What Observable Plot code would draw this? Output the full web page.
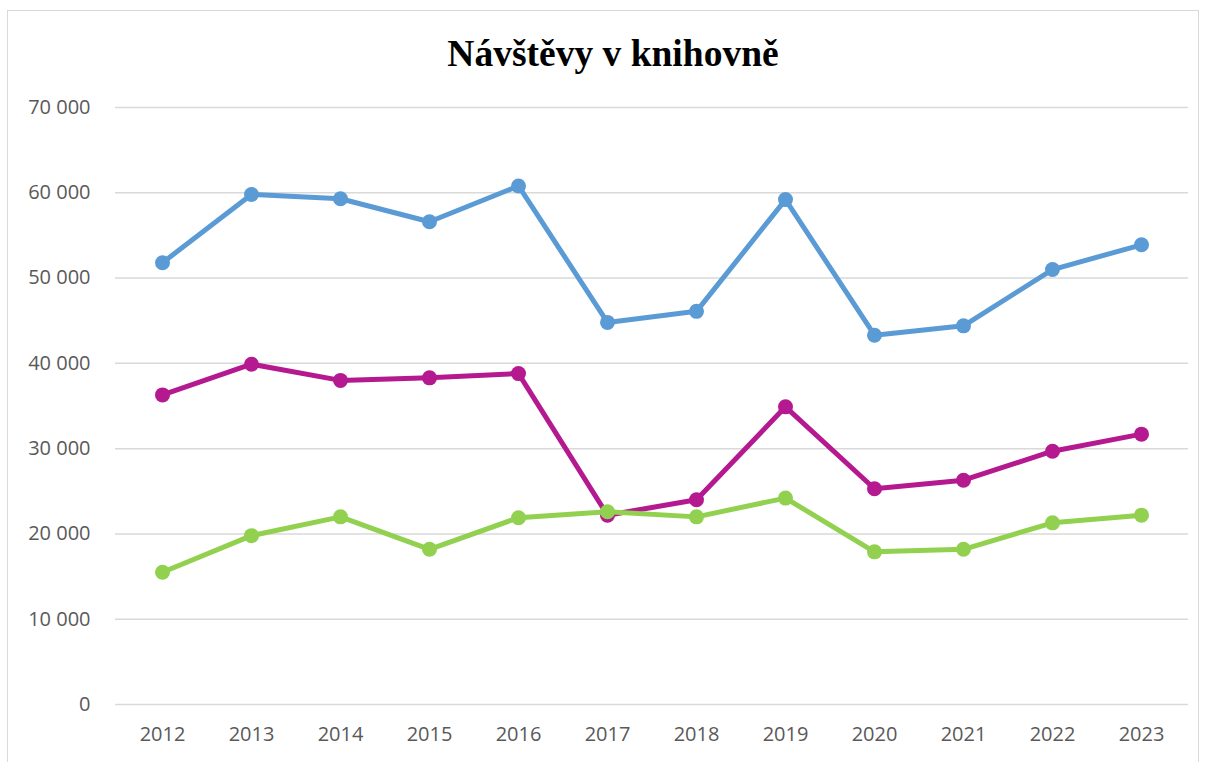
<!DOCTYPE html>
<html>
<head>
<meta charset="utf-8">
<script src="https://cdn.jsdelivr.net/npm/d3@7"></script>
<script src="https://cdn.jsdelivr.net/npm/@observablehq/plot@0.6"></script>
<style>
  html, body { margin: 0; padding: 0; background: #fff; width: 1206px; height: 762px; overflow: hidden; }
  #frame { position: absolute; left: 7px; top: 10px; width: 1192px; height: 800px; border: 1.5px solid #d9d9d9; box-sizing: border-box; }
  #title { position: absolute; left: 0; top: 32px; width: 1226px; text-align: center;
           font-family: "Liberation Serif", "Times New Roman", serif; font-weight: bold; font-size: 37.5px; color: #000; }
  #chart { position: absolute; left: 0; top: 80px; }
</style>
</head>
<body>
<div id="frame"></div>
<div id="title">Návštěvy v knihovně</div>
<div id="chart"></div>
<script>
const years = ["2012","2013","2014","2015","2016","2017","2018","2019","2020","2021","2022","2023"];
const seriesNames = ["A", "B", "C"];
const seriesA = [51800, 59800, 59300, 56600, 60800, 44800, 46100, 59200, 43300, 44400, 51000, 53900];
const seriesB = [36300, 39900, 38000, 38300, 38800, 22200, 24000, 34900, 25300, 26300, 29700, 31700];
const seriesC = [15500, 19800, 22000, 18200, 21900, 22600, 22000, 24200, 17900, 18200, 21300, 22200];
const colors = ["#5B9BD5", "#B5198F", "#92D050"];
const yTicks = [0, 10000, 20000, 30000, 40000, 50000, 60000, 70000];

const allSeries = [seriesA, seriesB, seriesC];
const data = [];
allSeries.forEach((vals, si) => {
  vals.forEach((v, i) => data.push({year: years[i], value: v, series: seriesNames[si]}));
});

const fmt = v => d3.format(",")(v).replace(/,/g, "\u00a0");

const marks = [
  Plot.ruleY(yTicks, {stroke: "#d9d9d9", strokeWidth: 1.5}),
  Plot.axisY({ticks: yTicks, tickFormat: fmt, tickSize: 0, tickPadding: 25,
    fontSize: 20, fill: "#595959", label: null}),
  Plot.axisX({tickSize: 0, tickPadding: 22, fontSize: 20, fill: "#595959", label: null})
];
seriesNames.forEach((s, si) => {
  const d = data.filter(r => r.series === s);
  marks.push(Plot.line(d, {x: "year", y: "value", stroke: colors[si], strokeWidth: 5, curve: "linear"}));
  marks.push(Plot.dot(d, {x: "year", y: "value", fill: colors[si], r: 7.5}));
});

const chart = Plot.plot({
  width: 1206,
  height: 682,
  marginTop: 27,
  marginBottom: 58,
  marginLeft: 115,
  marginRight: 18,
  style: {background: "transparent", overflow: "visible", fontSize: "20px", fontFamily: "'Open Sans', sans-serif"},
  x: {type: "point", domain: years, padding: 0.5},
  y: {domain: [0, 70000]},
  marks
});
document.getElementById("chart").appendChild(chart);
</script>
</body>
</html>
